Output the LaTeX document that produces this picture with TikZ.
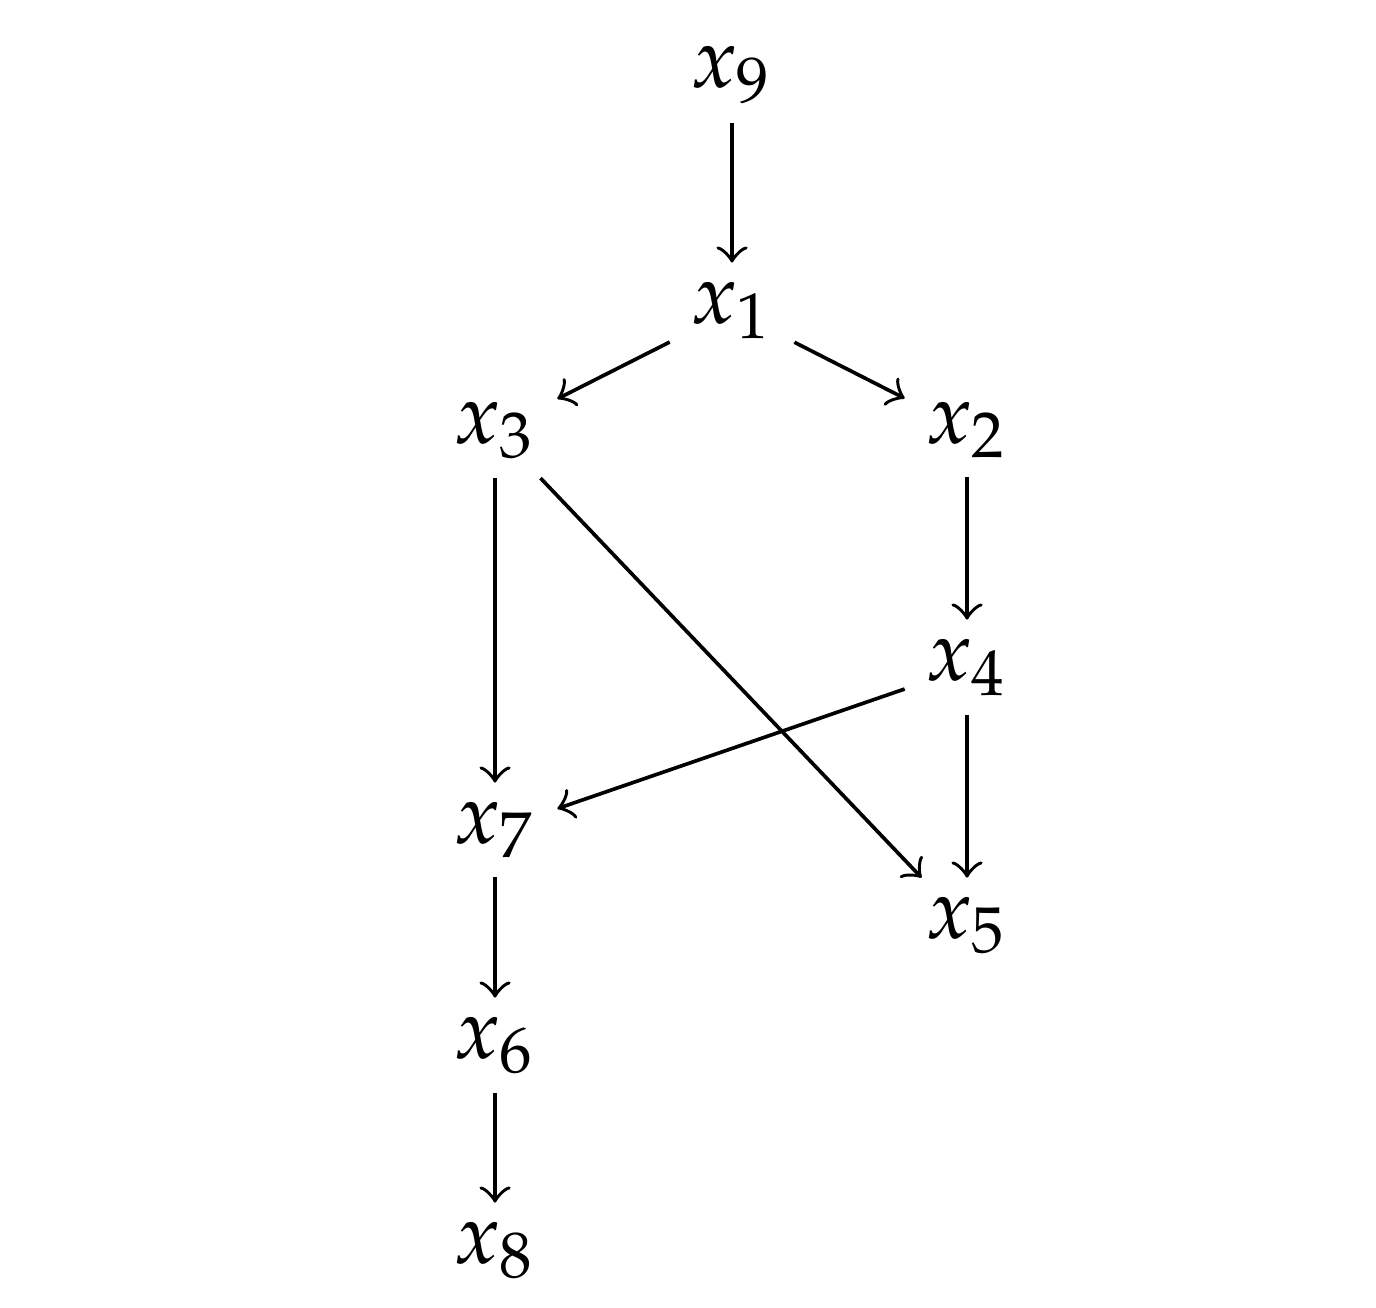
\documentclass[tikz,border=0pt]{standalone}
\usepackage{mathpazo}
\begin{document}
\begin{tikzpicture}[x=0.11494pt,y=-0.11494pt,
  vnode/.style={anchor=base,inner xsep=2.4pt,inner ysep=2.2pt,outer sep=0pt,font=\fontsize{9.8pt}{12pt}\selectfont},
  edge/.style={->,line width=0.42pt}]
\useasboundingbox (0,0) rectangle (1376,1307);
\node[vnode] (x9) at (732,88) {$x_9$};
\node[vnode] (x1) at (732,323) {$x_1$};
\node[vnode] (x3) at (495,443) {$x_3$};
\node[vnode] (x2) at (967,443) {$x_2$};
\node[vnode] (x4) at (967,680) {$x_4$};
\node[vnode] (x7) at (495,843) {$x_7$};
\node[vnode] (x5) at (967,938) {$x_5$};
\node[vnode] (x6) at (495,1058) {$x_6$};
\node[vnode] (x8) at (495,1263) {$x_8$};
\draw[edge] (x9) -- (x1);
\draw[edge] (x1) -- (x3);
\draw[edge] (x1) -- (x2);
\draw[edge] (x3) -- (x7);
\draw[edge] (x3) -- (x5);
\draw[edge] (x2) -- (x4);
\draw[edge] (x4) -- (x7);
\draw[edge] (x4) -- (x5);
\draw[edge] (x7) -- (x6);
\draw[edge] (x6) -- (x8);
\end{tikzpicture}
\end{document}
